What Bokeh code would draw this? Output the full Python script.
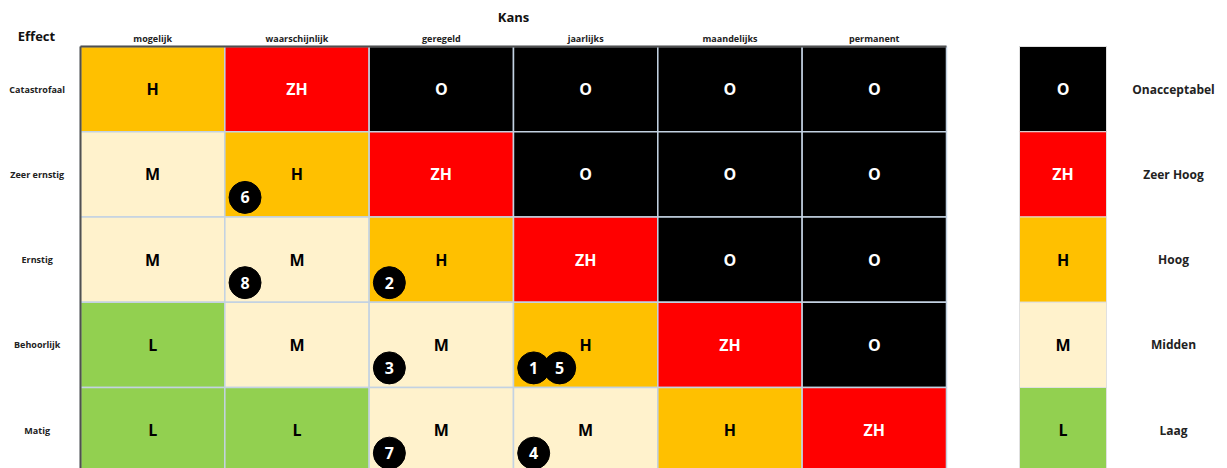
from bokeh.plotting import figure
from bokeh.models import Range1d, ColumnDataSource
from bokeh.core.properties import value
from bokeh.embed import file_html
from bokeh.resources import INLINE

# ---- data ----
kans = ["mogelijk", "waarschijnlijk", "geregeld", "jaarlijks", "maandelijks", "permanent"]
effect = ["Catastrofaal", "Zeer ernstig", "Ernstig", "Behoorlijk", "Matig"]
matrix = [
    ["H", "ZH", "O", "O", "O", "O"],
    ["M", "H", "ZH", "O", "O", "O"],
    ["M", "M", "H", "ZH", "O", "O"],
    ["L", "M", "M", "H", "ZH", "O"],
    ["L", "L", "M", "M", "H", "ZH"],
]
levels = ["O", "ZH", "H", "M", "L"]
level_names = ["Onacceptabel", "Zeer Hoog", "Hoog", "Midden", "Laag"]
level_colors = ["#000000", "#FF0000", "#FFC000", "#FFF2CC", "#92D050"]
level_text = ["white", "white", "black", "black", "black"]
risk_ids = ["1", "2", "3", "4", "5", "6", "7", "8"]
risk_kans = ["jaarlijks", "geregeld", "geregeld", "jaarlijks", "jaarlijks", "waarschijnlijk", "geregeld", "waarschijnlijk"]
risk_effect = ["Behoorlijk", "Ernstig", "Behoorlijk", "Matig", "Behoorlijk", "Zeer ernstig", "Matig", "Ernstig"]

FONT = value("Open Sans")
CW, RH = 144.33, 85.25  # pixel size of one cell
W, H = 1227, 468
X0, Y0 = 80, 46  # pixel position of the grid's top-left corner

p = figure(width=W, height=H, output_backend="svg", toolbar_location=None,
           x_range=Range1d((0 - X0) / CW, (W - X0) / CW),
           y_range=Range1d((H - Y0) / RH, (0 - Y0) / RH),
           min_border=0)
p.axis.visible = False
p.grid.visible = False
p.outline_line_color = None
p.background_fill_color = "white"

# ---- matrix cells ----
cmap = dict(zip(levels, level_colors))
tmap = dict(zip(levels, level_text))
cx, cy, lab, fill, tc = [], [], [], [], []
for r, row in enumerate(matrix):
    for c, lv in enumerate(row):
        cx.append(c + 0.5); cy.append(r + 0.5); lab.append(lv)
        fill.append(cmap[lv]); tc.append(tmap[lv])
src = ColumnDataSource(dict(x=cx, y=cy, lab=lab, fill=fill, tc=tc))
p.rect("x", "y", width=1, height=1, source=src, fill_color="fill",
       line_color="#C3D2E2", line_width=1.5)
p.text("x", "y", text="lab", source=src, text_color="tc", text_align="center",
       text_baseline="middle", text_font=FONT, text_font_style="bold", text_font_size="16px")

# outer frame lines (dark left/top)
p.line([0, 0], [0, len(effect) + 0.5], line_color="#505050", line_width=2)
p.line([0, len(kans)], [0, 0], line_color="#505050", line_width=2)

# ---- axis labels ----
p.text(x=[i + 0.5 for i in range(len(kans))], y=[-0.09] * len(kans), text=kans,
       text_align="center", text_baseline="middle", text_font=FONT,
       text_font_style="bold", text_font_size="9px", text_color="#222222")
p.text(x=[-0.30] * len(effect), y=[i + 0.5 for i in range(len(effect))], text=effect,
       text_align="center", text_baseline="middle", text_font=FONT,
       text_font_style="bold", text_font_size="9px", text_color="#222222")
p.text(x=[len(kans) / 2], y=[-0.35], text=["Kans"], text_align="center",
       text_baseline="middle", text_font=FONT, text_font_style="bold",
       text_font_size="13px", text_color="#111111")
p.text(x=[-0.305], y=[-0.12], text=["Effect"], text_align="center",
       text_baseline="middle", text_font=FONT, text_font_style="bold",
       text_font_size="13px", text_color="#111111")

# ---- legend column ----
lx0 = (1019 - X0) / CW
lx1 = (1106 - X0) / CW
lsrc = ColumnDataSource(dict(
    top=list(range(len(levels))), bottom=[i + 1 for i in range(len(levels))],
    y=[i + 0.5 for i in range(len(levels))], lab=levels, name=level_names,
    fill=level_colors, tc=level_text))
p.quad(left=lx0, right=lx1, top="top", bottom="bottom", source=lsrc,
       fill_color="fill", line_color="#E0E0E0", line_width=1)
p.text(x=(lx0 + lx1) / 2, y="y", text="lab", source=lsrc, text_color="tc",
       text_align="center", text_baseline="middle", text_font=FONT,
       text_font_style="bold", text_font_size="16px")
p.text(x=(1173 - X0) / CW, y="y", text="name", source=lsrc, text_color="#222222",
       text_align="center", text_baseline="middle", text_font=FONT,
       text_font_style="bold", text_font_size="12px")

# ---- numbered risk markers ----
seen = {}
mx, my = [], []
for k, e in zip(risk_kans, risk_effect):
    c, r = kans.index(k), effect.index(e)
    n = seen.get((c, r), 0)
    seen[(c, r)] = n + 1
    mx.append(c + 0.14 + n * 26 / CW)
    my.append(r + 0.77)
msrc = ColumnDataSource(dict(x=mx, y=my, t=risk_ids))
p.scatter("x", "y", source=msrc, size=32, fill_color="black", line_color="black")
p.text("x", "y", text="t", source=msrc, text_color="white", text_align="center",
       text_baseline="middle", text_font=FONT, text_font_style="bold",
       text_font_size="16px")

open("out.html", "w").write(file_html(p, INLINE))
